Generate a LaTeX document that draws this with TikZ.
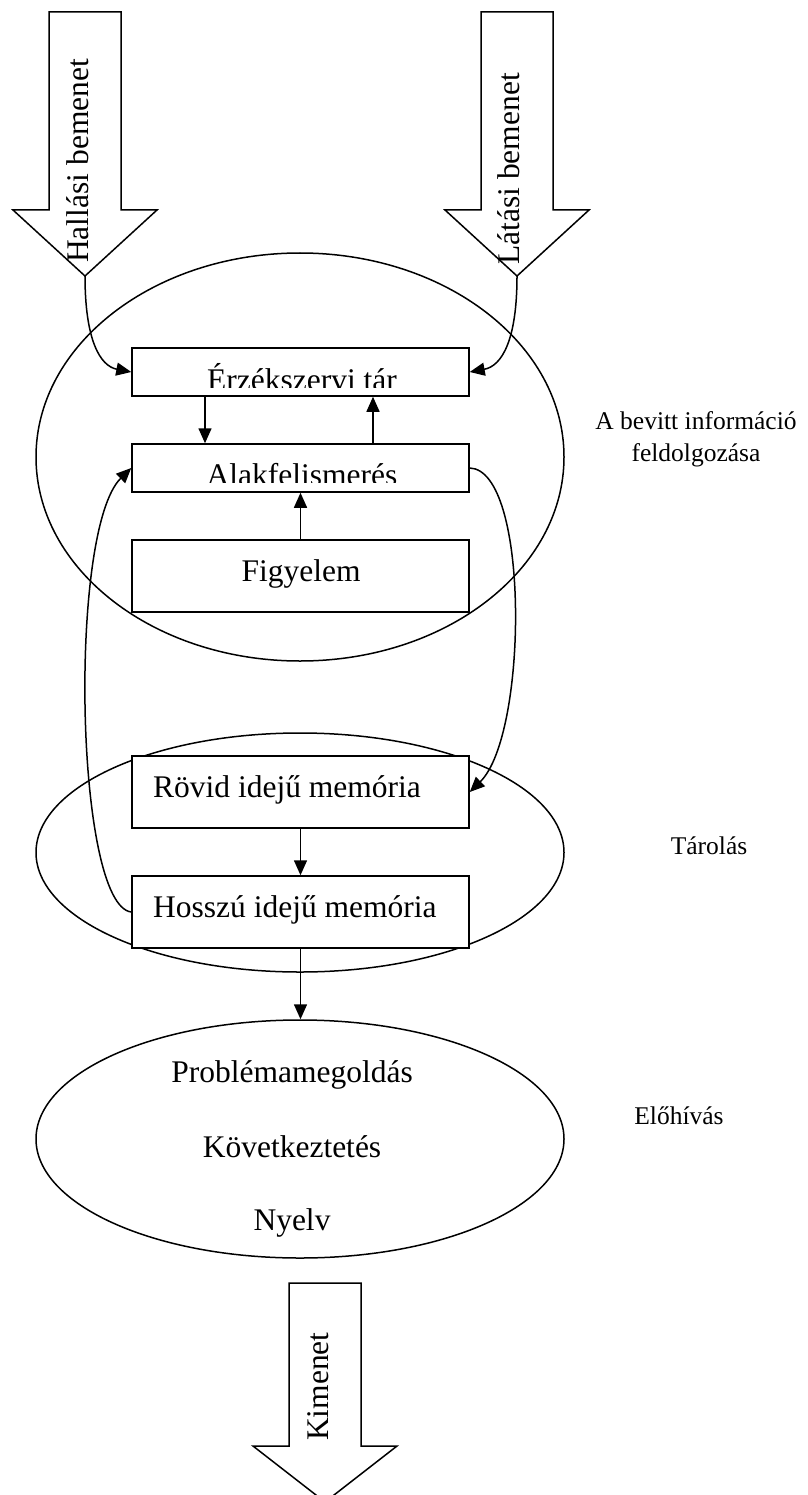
\documentclass[tikz,border=0pt]{standalone}
\usepackage{fontspec}
\setmainfont{Liberation Serif}
\usetikzlibrary{shapes.geometric,arrows.meta}
\tikzset{
  ln/.style={line width=1.5pt},
  boxn/.style={ln, draw, fill=white, minimum width=337pt, inner sep=0pt},
  ell/.style={ln, draw, ellipse, inner sep=0pt, minimum width=528pt},
  blk/.style={ln, draw, fill=white, line join=miter},
  conn/.style={ln, -{Triangle[length=15pt,width=13pt]}},
  big/.style={font=\fontsize{31.5}{36}\selectfont, inner sep=0pt},
  side/.style={font=\fontsize{25.5}{32}\selectfont, inner sep=0pt, align=center},
}
\begin{document}
\begin{tikzpicture}[x=1pt,y=-1pt]
\useasboundingbox (0,0) rectangle (807,1495);
\clip (0,0) rectangle (807,1495);
% ellipses
\node[ell, minimum height=408pt] (e1) at (300,457) {};
\node[ell, minimum height=239pt] (e2) at (300,852.5) {};
\node[ell, minimum height=238pt] (e3) at (300,1139) {};
% block arrows
\draw[blk] (49,12) -- (121,12) -- (121,210) -- (157,210) -- (85,276) -- (13,210) -- (49,210) -- cycle;
\coordinate (hallTip) at (85,276);
\node[big, rotate=90, anchor=base west] (hallT) at (88,263) {Hallási bemenet};
\draw[blk] (481,12) -- (553,12) -- (553,210) -- (589,210) -- (517,276) -- (445,210) -- (481,210) -- cycle;
\coordinate (latTip) at (517,276);
\node[big, rotate=90, anchor=base west] (latT) at (519,265) {Látási bemenet};
\draw[blk] (289,1283) -- (361,1283) -- (361,1446) -- (397,1446) -- (325,1502) -- (253,1446) -- (289,1446) -- cycle;
\node[big, rotate=90, anchor=base west] (kiT) at (328,1441) {Kimenet};
% boxes
\node[boxn, minimum height=48pt] (erz) at (300.5,372) {};
\begin{scope}
\clip (132,348) rectangle (469,387);
\node[big, anchor=base] (erzT) at (302,390) {Érzékszervi tár};
\end{scope}
\node[boxn, minimum height=48pt] (alak) at (300.5,468) {};
\begin{scope}
\clip (132,444) rectangle (469,482);
\node[big, anchor=base] (alakT) at (302,485) {Alakfelismerés};
\end{scope}
\node[boxn, minimum height=72pt] (fig) at (300.5,576) {};
\node[big, anchor=base] (figT) at (301,581) {Figyelem};
\node[boxn, minimum height=72pt] (rov) at (300.5,792) {};
\node[big, anchor=base west] (rovT) at (153,797) {Rövid idejű memória};
\node[boxn, minimum height=72pt] (hos) at (300.5,912) {};
\node[big, anchor=base west] (hosT) at (153,917) {Hosszú idejű memória};
% ellipse 3 texts
\node[big, anchor=base] (p1) at (292,1082) {Problémamegoldás};
\node[big, anchor=base] (p2) at (292,1157) {Következtetés};
\node[big, anchor=base] (p3) at (292,1230) {Nyelv};
% side labels
\node[side] (s1) at (696,439) {A bevitt információ\\feldolgozása};
\node[side] (s2) at (709,846) {Tárolás};
\node[side] (s3) at (679,1116) {Előhívás};
% connectors
\draw[conn] (hallTip) .. controls (85,340) and (100,366) .. (erz.west);
\draw[conn] (latTip) .. controls (517,340) and (502,366) .. (erz.east);
\draw[conn] (erz.south -| 205,0) -- (alak.north -| 205,0);
\draw[conn] (alak.north -| 373,0) -- (erz.south -| 373,0);
\draw[conn] (fig.north) -- (alak.south);
\draw[conn] (alak.east) .. controls (530,470) and (528,735) .. (rov.east);
\draw[conn] (hos.west) .. controls (75,905) and (68,530) .. (alak.west);
\draw[conn] (rov.south) -- (hos.north);
\draw[conn] (hos.south) -- (hos.south |- e3.north);
\end{tikzpicture}
\end{document}
